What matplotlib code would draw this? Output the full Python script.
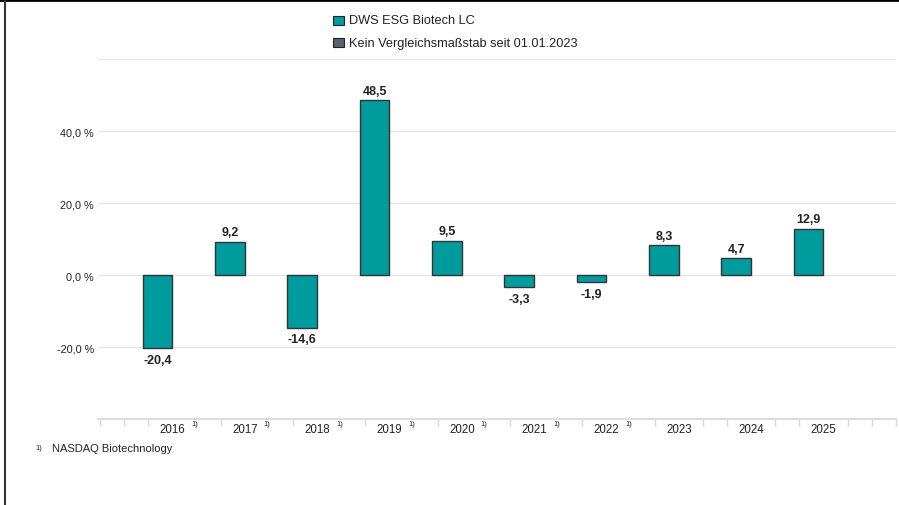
import matplotlib
matplotlib.use("Agg")
import matplotlib.pyplot as plt
from matplotlib.lines import Line2D
from matplotlib.patches import Rectangle
from matplotlib.transforms import blended_transform_factory
import numpy as np

plt.rcParams['font.family'] = ['Liberation Sans', 'DejaVu Sans']

# ---- data ----
years = ["2016", "2017", "2018", "2019", "2020", "2021", "2022", "2023", "2024", "2025"]
values = [-20.4, 9.2, -14.6, 48.5, 9.5, -3.3, -1.9, 8.3, 4.7, 12.9]
footnoted = [True, True, True, True, True, True, True, False, False, False]
ytick_values = [-20, 0, 20, 40, 60]
legend_labels = ["DWS ESG Biotech LC", "Kein Vergleichsmaßstab seit 01.01.2023"]
footnote_text = "NASDAQ Biotechnology"

bar_color = "#009B9D"
bench_color = "#56646E"
edge_color = "#333333"
grid_color = "#E6E6E6"

W, H = 899, 506
fig = plt.figure(figsize=(W / 100, H / 100), dpi=100)
ax = fig.add_axes([98 / W, 86 / H, (896 - 98) / W, 360 / H])

x = np.arange(len(years))
ax.bar(x, values, width=0.41, color=bar_color, edgecolor=edge_color, linewidth=1.0, zorder=3)

for xi, v in zip(x, values):
    lbl = f"{v:.1f}".replace(".", ",")
    ax.annotate(lbl, (xi, v), xytext=(0, 6.8 if v >= 0 else -8.4), textcoords="offset points",
                ha="center", va="center", fontsize=9, fontweight="bold", color="#222222")

ax.set_xlim(-0.823, 10.21)
ax.set_ylim(-40, 60)

ax.set_yticks(ytick_values)
ax.set_yticklabels([("" if t == 60 else f"{t:.1f}".replace(".", ",") + " %") for t in ytick_values])
ax.tick_params(axis="y", length=0, pad=3, labelsize=7.8, labelcolor="#222222")
ax.grid(axis="y", color=grid_color, linewidth=1.0, zorder=0)

label_off = 0.2074
major = x + label_off
ax.set_xticks(major)
ax.set_xticklabels(years)
ax.tick_params(axis="x", which="major", length=0, pad=3, labelsize=8.3, labelcolor="#222222")

# minor ticks every third of a category, skipping label and footnote positions
minor = []
for k in range(-3, 3 * len(years) + 3):
    pos = label_off + k / 3
    if pos < -0.83 or pos > 10.22:
        continue
    idx = k // 3
    rem = k % 3
    if rem == 0 and 0 <= idx < len(years):
        continue
    if rem == 1 and 0 <= idx < len(years) and footnoted[idx]:
        continue
    minor.append(pos)
ax.set_xticks(minor, minor=True)
ax.tick_params(axis="x", which="minor", length=5, width=1, color="#D9D9D9", direction="out")

trans = blended_transform_factory(ax.transData, ax.transAxes)
for xi, f in zip(major, footnoted):
    if f:
        ax.text(xi + 0.31, -0.012, "1)", transform=trans, ha="center", va="center",
                fontsize=5.5, color="#222222")

for s in ["left", "top", "right"]:
    ax.spines[s].set_visible(False)
ax.spines["bottom"].set_color("#DCDCDC")
ax.spines["bottom"].set_linewidth(1.5)

# legend (manual)
handles_colors = [bar_color, bench_color]
for i, (lab, col) in enumerate(zip(legend_labels, handles_colors)):
    yc = 21.5 + 22 * i
    fig.add_artist(Rectangle((333 / W, 1 - (yc + 4.5) / H), 11 / W, 9 / H,
                             transform=fig.transFigure, facecolor=col, edgecolor="#222222",
                             linewidth=0.8))
    fig.text(349 / W, 1 - yc / H, lab, ha="left", va="center", fontsize=9.2, color="#222222")

# footnote
fig.text(39 / W, 1 - 449 / H, "1)", ha="center", va="center", fontsize=5.5, color="#222222")
fig.text(52 / W, 1 - 449 / H, footnote_text, ha="left", va="center", fontsize=8, color="#222222")

# frame lines
fig.add_artist(Line2D([0, 1], [1 - 1.2 / H, 1 - 1.2 / H], color="black", linewidth=2,
                      transform=fig.transFigure))
fig.add_artist(Line2D([4.5 / W, 4.5 / W], [0, 1], color="#333333", linewidth=1.5,
                      transform=fig.transFigure))

fig.savefig("out.png", dpi=100)
